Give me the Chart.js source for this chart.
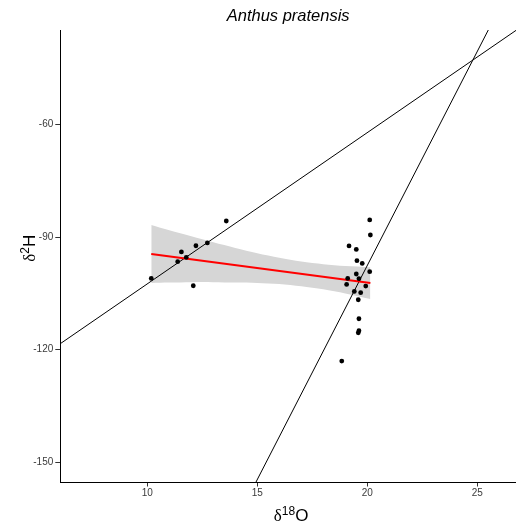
<!DOCTYPE html>
<html>
<head>
<meta charset="utf-8">
<script src="https://cdn.jsdelivr.net/npm/chart.js@4/dist/chart.umd.min.js"></script>
<style>
  html, body { margin: 0; padding: 0; background: #fff; }
  #wrap { width: 516px; height: 529px; }
</style>
</head>
<body>
<div id="wrap"><canvas id="chart" width="516" height="529"></canvas></div>
<script>
// data
const titleText = "Anthus pratensis";

const obsX = [10.18, 11.38, 11.55, 11.77, 12.21, 12.73, 13.59, 12.09,
    20.11, 20.14, 19.17, 19.50, 19.53, 19.77, 20.11, 19.50, 19.11, 19.62,
    19.06, 19.93, 19.41, 19.70, 19.59, 19.62, 19.62, 19.59, 18.84];
const obsY = [-101.0, -96.55, -93.96, -95.4, -92.3, -91.56, -85.7, -102.96,
    -85.43, -89.43, -92.36, -93.27, -96.29, -97.01, -99.22, -99.83, -101.0, -101.09,
    -102.61, -103.04, -104.48, -104.82, -106.69, -111.76, -114.96, -115.5, -123.05];

// linear fit + confidence band
const fitX = [10.18, 20.14];
const fitY = [-94.5, -102.2];
const bandX = [10.18, 11, 12, 13, 14, 15, 16, 17, 18, 19, 20.14];
const bandUpper = [-86.8, -88.2, -89.8, -91.4, -92.9, -94.3, -95.5, -96.5, -97.2, -97.7, -98.0];
const bandLower = [-102.2, -102.1, -102.0, -102.0, -102.1, -102.2, -102.5, -103.1, -103.9, -105.0, -106.5];

// the two reference lines (end points at the panel edges)
const lineAX = [6.045, 26.76];
const lineAY = [-118.4, -34.9];
const lineBX = [14.93, 25.5];
const lineBY = [-155.4, -34.8];

const xTicks = [10, 15, 20, 25];
const yTicks = [-150, -120, -90, -60];
const xRange = [6.045, 26.76];
const yRange = [-155.4, -34.8];

const pts = (xs, ys) => xs.map((x, i) => ({ x: x, y: ys[i] }));

// draws "δ", a superscript and a letter as one label
function drawRich(ctx, parts, x, y, rotate) {
    ctx.save();
    ctx.translate(x, y);
    if (rotate) ctx.rotate(-Math.PI / 2);
    let total = 0;
    parts.forEach(p => { ctx.font = p.font; total += ctx.measureText(p.t).width; });
    let cx = -total / 2;
    ctx.fillStyle = "#000";
    ctx.textBaseline = "alphabetic";
    ctx.textAlign = "left";
    parts.forEach(p => {
        ctx.font = p.font;
        ctx.fillText(p.t, cx, p.dy || 0);
        cx += ctx.measureText(p.t).width;
    });
    ctx.restore();
}

const labelsPlugin = {
    id: "labels",
    afterDraw(chart) {
        const ctx = chart.ctx;
        const a = chart.chartArea;
        const midX = (a.left + a.right) / 2;
        const midY = (a.top + a.bottom) / 2;

        ctx.save();
        ctx.font = "italic 16.5px 'Liberation Sans', Arial, sans-serif";
        ctx.fillStyle = "#000";
        ctx.textAlign = "center";
        ctx.textBaseline = "alphabetic";
        ctx.fillText(titleText, midX, 21);
        ctx.restore();

        drawRich(ctx, [
            { t: "δ", font: "17px 'Liberation Serif', serif" },
            { t: "18", font: "12px 'Liberation Sans', Arial, sans-serif", dy: -6.5 },
            { t: "O", font: "17px 'Liberation Sans', Arial, sans-serif" }
        ], midX + 3, 521, false);

        drawRich(ctx, [
            { t: "δ", font: "17px 'Liberation Serif', serif" },
            { t: "2", font: "12px 'Liberation Sans', Arial, sans-serif", dy: -6.5 },
            { t: "H", font: "17px 'Liberation Sans', Arial, sans-serif" }
        ], 35, midY - 8, true);
    }
};

const tickFont = { family: "'Liberation Sans', Arial, sans-serif", size: 10 };

new Chart(document.getElementById("chart").getContext("2d"), {
    type: "scatter",
    data: {
        datasets: [
            {
                data: pts(obsX, obsY),
                backgroundColor: "#000",
                borderColor: "#000",
                pointRadius: 2.4,
                pointBorderWidth: 0
            },
            {
                data: pts(fitX, fitY),
                showLine: true,
                borderColor: "#ff0000",
                borderWidth: 2,
                pointRadius: 0
            },
            {
                data: pts(lineAX, lineAY),
                showLine: true,
                borderColor: "#000",
                borderWidth: 1,
                pointRadius: 0
            },
            {
                data: pts(lineBX, lineBY),
                showLine: true,
                borderColor: "#000",
                borderWidth: 1,
                pointRadius: 0
            },
            {
                data: pts(bandX, bandUpper),
                showLine: true,
                borderWidth: 0,
                borderColor: "rgba(0,0,0,0)",
                backgroundColor: "rgb(214,214,214)",
                pointRadius: 0,
                tension: 0.3,
                fill: "+1"
            },
            {
                data: pts(bandX, bandLower),
                showLine: true,
                borderWidth: 0,
                borderColor: "rgba(0,0,0,0)",
                pointRadius: 0,
                tension: 0.3,
                fill: false
            }
        ]
    },
    options: {
        responsive: false,
        animation: false,
        layout: { autoPadding: false, padding: { top: 30, right: 0, left: 0, bottom: 0 } },
        plugins: {
            legend: { display: false },
            tooltip: { enabled: false }
        },
        scales: {
            x: {
                type: "linear",
                min: xRange[0],
                max: xRange[1],
                afterBuildTicks: s => { s.ticks = xTicks.map(v => ({ value: v })); },
                afterFit: s => { s.height = 46.5; s.paddingLeft = 0; s.paddingRight = 0; },
                grid: { drawOnChartArea: false, tickLength: 4, tickColor: "#333" },
                border: { color: "#000", width: 1 },
                ticks: { font: tickFont, color: "#3a3a3a", padding: 1, maxRotation: 0 }
            },
            y: {
                type: "linear",
                min: yRange[0],
                max: yRange[1],
                afterBuildTicks: s => { s.ticks = yTicks.map(v => ({ value: v })); },
                afterFit: s => { s.width = 60.3; s.paddingTop = 0; s.paddingBottom = 0; },
                grid: { drawOnChartArea: false, tickLength: 5, tickColor: "#333" },
                border: { color: "#000", width: 1 },
                ticks: { font: tickFont, color: "#3a3a3a", padding: 2 }
            }
        }
    },
    plugins: [labelsPlugin]
});
</script>
</body>
</html>
